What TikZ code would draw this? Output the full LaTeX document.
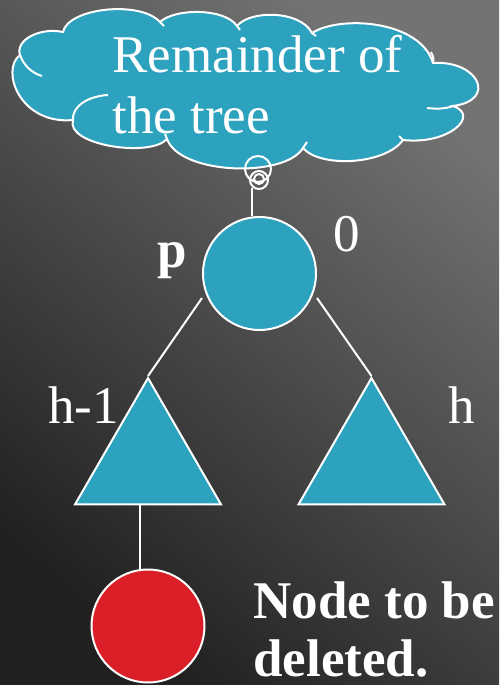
\documentclass[tikz,border=0pt]{standalone}
\usepackage{fontspec}
\setmainfont{Liberation Serif}
\usetikzlibrary{shapes.geometric}
\definecolor{treeblue}{HTML}{2CA2BF}
\definecolor{delred}{HTML}{DA1F28}
\newcommand{\bigfont}{\fontsize{26.5}{30.5}\selectfont}

\begin{document}
\begin{tikzpicture}[
  x=0.5pt, y=-0.5pt,
  bubble/.style={circle, draw=white, line width=1pt, inner sep=0pt},
  treenode/.style={circle, draw=white, line width=1pt, fill=treeblue,
    minimum size=56.5pt, inner sep=0pt},
  subtree/.style={regular polygon, regular polygon sides=3, draw=white,
    line width=1pt, fill=treeblue, minimum size=84.3pt, inner sep=0pt},
  lbl/.style={anchor=base west, inner sep=0pt, text=white, font=\bigfont},
  boldlbl/.style={lbl, font=\bigfont\bfseries},
  edge/.style={draw=white, line width=1pt}
]
% background
\useasboundingbox (0,0) rectangle (499,685);
\shade[bottom color=black!87, top color=black!55, shading angle=-40]
  (0,0) rectangle (499,685);

% cloud with the rest of the tree
\filldraw[fill=treeblue, draw=white, line width=1pt]
  (20,55) .. controls (15,40) and (40,27) .. (63,32)
  .. controls (68,8) and (140,0) .. (160,22)
  .. controls (175,8) and (225,8) .. (237,26)
  .. controls (250,10) and (300,10) .. (312,33)
  .. controls (340,15) and (420,20) .. (433,63)
  .. controls (478,60) and (498,100) .. (453,106)
  .. controls (480,115) and (450,145) .. (403,140)
  .. controls (385,165) and (320,168) .. (303,148)
  .. controls (285,178) and (180,175) .. (167,139)
  .. controls (150,158) and (65,145) .. (73,120)
  .. controls (20,125) and (0,70) .. cycle;
% inner arcs of the puffs
\draw[white, line width=1pt]
  (20,55) .. controls (24,66) and (32,73) .. (42,76)
  (73,120) .. controls (72,105) and (90,96) .. (108,95)
  (160,22) -- (164,26)
  (237,26) -- (240,30)
  (312,33) -- (316,36)
  (433,63) .. controls (434,58) and (433,55) .. (431,52)
  (453,106) .. controls (445,109) and (436,109) .. (427,108)
  (403,140) -- (399,136)
  (303,148) -- (307,142)
  (167,139) -- (165,134);
\node[lbl] (rem) at (112,72) {Remainder of};
\node[lbl] (tree) at (112,133) {the tree};
\node[bubble, minimum size=13pt] (b1) at (258,169) {};
\node[bubble, minimum size=9pt] (b2) at (259,180) {};
\node[bubble, minimum size=5pt] (b3) at (259,179) {};

% tree
\node[treenode] (p) at (259.5,273.5) {};
\node[subtree] (lt) at (148,462.3) {};
\node[subtree] (rt) at (371.5,462.3) {};
\node[treenode, fill=delred] (del) at (148,626) {};

% labels
\node[boldlbl] (plbl) at (157,267) {p};
\node[lbl] (bal) at (333,251) {0};
\node[lbl] (hl) at (48,423) {h-1};
\node[lbl] (hr) at (448,423) {h};
\node[boldlbl] (note) at (253,618) {Node to be};
\node[boldlbl] (note2) at (253,676) {deleted.};

% connectors
\coordinate (stem) at (252,188);
\draw[edge] (stem) -- (stem |- p.north);
\draw[edge] ([yshift=-12.25pt]p.west) -- (lt.corner 1);
\draw[edge] ([yshift=-12.25pt]p.east) -- (rt.corner 1);
\draw[edge] ([xshift=-4pt]lt.south) -- ([xshift=-4pt]del.north);
\end{tikzpicture}
\end{document}
